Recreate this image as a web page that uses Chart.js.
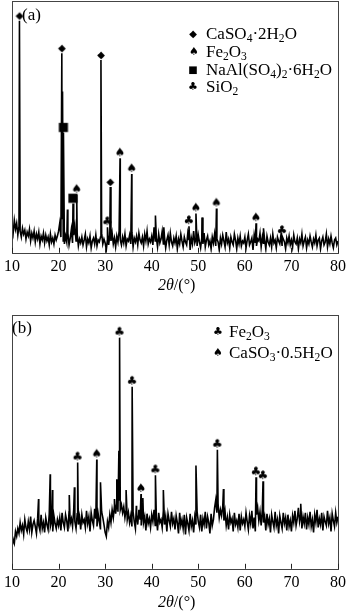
<!DOCTYPE html>
<html>
<head>
<meta charset="utf-8">
<script src="https://cdn.jsdelivr.net/npm/chart.js@4.4.1/dist/chart.umd.min.js"></script>
<style>
  body { margin: 0; background: #fff; }
  #page { position: relative; width: 350px; height: 612px; overflow: hidden; font-family: "Liberation Serif", "Times New Roman", serif; color: #000; }
  canvas { position: absolute; left: 0; }
  .txt { position: absolute; white-space: nowrap; line-height: 1; font-size: 17px; }
  .gl { position: absolute; font-family: "DejaVu Sans", sans-serif; line-height: 1; transform: translate(-50%, -50%); }
  sub { font-size: 0.68em; vertical-align: -0.28em; line-height: 0; }
  .xt { position: absolute; font-size: 16px; line-height: 1; }
</style>
</head>
<body>
<div id="page">
  <canvas id="chartA" width="350" height="280" style="top:0"></canvas>
  <canvas id="chartB" width="350" height="296" style="top:300px"></canvas>

  <div class="txt" style="left:22px;top:6px">(a)</div>
  <span class="gl" style="left:193px;top:34px;font-size:10px">◆</span>
  <div class="txt" style="left:206px;top:25px">CaSO<sub>4</sub>·2H<sub>2</sub>O</div>
  <span class="gl" style="left:194px;top:51px;font-size:11px">♠</span>
  <div class="txt" style="left:206px;top:43px">Fe<sub>2</sub>O<sub>3</sub></div>
  <span class="gl" style="left:193px;top:70px;font-size:10px">■</span>
  <div class="txt" style="left:206px;top:61px">NaAl(SO<sub>4</sub>)<sub>2</sub>·6H<sub>2</sub>O</div>
  <span class="gl" style="left:193px;top:86px;font-size:11px">♣</span>
  <div class="txt" style="left:206px;top:78px">SiO<sub>2</sub></div>
  <div class="xt" style="left:158px;top:277px"><i>2θ</i>/(°)</div>

  <div class="txt" style="left:12px;top:319px">(b)</div>
  <span class="gl" style="left:218px;top:331px;font-size:11px">♣</span>
  <div class="txt" style="left:229px;top:323px">Fe<sub>2</sub>O<sub>3</sub></div>
  <span class="gl" style="left:218px;top:352px;font-size:11px">♠</span>
  <div class="txt" style="left:229px;top:344px">CaSO<sub>3</sub>·0.5H<sub>2</sub>O</div>
  <div class="xt" style="left:158px;top:594px"><i>2θ</i>/(°)</div>
</div>

<script>
// XRD scans: counts recorded every 0.25° from 10° to 80°, sharp reflections listed separately
const scanStart = 10;
const scanStep = 0.25;
const xTicks = [10, 20, 30, 40, 50, 60, 70, 80];

// (a) raw residue
const countsA = [
  28, 20, 33, 24, 30, 18, 27, 22, 16, 25, 19, 23, 14, 21, 17, 24, 12, 20, 15, 22,
  11, 19, 14, 21, 9, 17, 13, 20, 10, 18, 12, 16, 8, 19, 11, 15, 9, 18, 13, 17,
  22, 30, 16, 35, 12, 9, 17, 11, 20, 8, 15, 24, 10, 18, 27, 12, 19, 7, 14, 10,
  16, 8, 13, 19, 6, 14, 10, 17, 5, 12, 15, 9, 18, 7, 13, 11, 16, 20, 9, 14,
  10, 3, 14, 8, 18, 12, 20, 9, 15, 6, 17, 11, 22, 13, 8, 16, 10, 19, 7, 14,
  12, 18, 9, 21, 6, 15, 11, 17, 8, 20, 13, 10, 16, 7, 19, 12, 22, 9, 14, 11,
  17, 8, 26, 12, 15, 6, 19, 10, 14, 22, 9, 16, 5, 13, 18, 8, 20, 11, 7, 15,
  10, 17, 4, 14, 9, 19, 12, 6, 16, 11, 8, 20, 13, 3, 15, 9, 22, 10, 14, 7,
  18, 11, 5, 15, 9, 20, 6, 13, 17, 8, 12, 4, 16, 10, 19, 7, 14, 11, 3, 15,
  9, 18, 12, 6, 21, 10, 14, 5, 16, 11, 8, 19, 13, 4, 15, 9, 17, 7, 12, 10,
  16, 5, 13, 19, 8, 11, 15, 3, 18, 10, 7, 14, 12, 20, 6, 16, 9, 13, 4, 17,
  11, 8, 15, 6, 19, 10, 13, 5, 16, 12, 9, 18, 7, 14, 11, 4, 15, 10, 17, 8,
  13, 6, 18, 11, 9, 15, 4, 14, 10, 19, 7, 12, 16, 5, 13, 9, 17, 11, 6, 14,
  10, 18, 7, 13, 15, 4, 12, 16, 8, 11, 19, 6, 14, 9, 17, 10, 5, 13, 15, 8, 12
];
const peaksA = [
  [11.6, 236], [20.7, 203], [20.85, 164], [21.05, 122], [21.9, 44], [23.1, 50],
  [23.9, 59], [29.1, 196], [30.5, 26], [31.1, 67], [33.2, 96], [35.7, 80],
  [40.8, 38], [42.6, 26], [48.0, 27], [49.5, 40], [50.8, 36], [53.9, 45],
  [62.4, 30], [64.0, 25], [68.0, 17]
];
const gypsumA = [11.6, 20.7, 29.1, 31.1];
const hematiteA = [23.9, 33.2, 35.7, 49.5, 53.9, 62.4];
const alumA = [21.05, 23.1];
const quartzA = [30.5, 48.0, 68.0];

// (b) treated product
const countsB = [
  22, 30, 26, 38, 33, 41, 36, 47, 39, 44, 35, 50, 42, 38, 48, 40, 53, 37, 45, 49,
  43, 36, 51, 44, 39, 55, 41, 47, 37, 52, 45, 40, 56, 43, 48, 38, 54, 46, 41, 50,
  44, 52, 39, 57, 47, 42, 55, 49, 38, 58, 46, 51, 43, 60, 48, 41, 56, 45, 53, 40,
  55, 47, 50, 42, 59, 46, 53, 38, 57, 49, 44, 61, 51, 43, 56, 48, 40, 58, 52, 45,
  37, 33, 48, 42, 55, 47, 60, 52, 64, 56, 66, 58, 70, 60, 65, 57, 63, 52, 60, 50,
  57, 47, 54, 43, 58, 48, 41, 55, 45, 60, 50, 44, 57, 47, 53, 39, 56, 46, 51, 42,
  55, 48, 60, 44, 52, 39, 57, 47, 50, 42, 59, 45, 53, 38, 56, 49, 43, 58, 46, 51,
  40, 54, 47, 36, 57, 44, 50, 41, 55, 35, 52, 46, 39, 56, 43, 49, 37, 53, 45, 58,
  48, 42, 55, 38, 51, 45, 58, 41, 53, 47, 36, 56, 44, 50, 62, 70, 57, 66, 52, 60,
  54, 63, 49, 58, 44, 52, 40, 55, 47, 51, 38, 57, 45, 49, 42, 56, 39, 53, 46, 50,
  43, 57, 48, 40, 54, 46, 59, 41, 52, 38, 55, 62, 49, 58, 44, 60, 47, 53, 39, 56,
  45, 51, 37, 55, 48, 42, 58, 44, 50, 36, 54, 47, 41, 57, 46, 52, 39, 55, 43, 49,
  38, 54, 47, 59, 44, 51, 62, 48, 55, 41, 53, 46, 57, 40, 52, 45, 58, 43, 50, 37,
  55, 47, 60, 42, 51, 45, 57, 39, 53, 48, 44, 59, 46, 52, 38, 56, 49, 43, 57, 47, 53
];
const peaksB = [
  [15.7, 71], [18.2, 96], [18.7, 80], [22.3, 75], [23.4, 83], [24.1, 108],
  [28.2, 111], [29.0, 88], [32.0, 71], [32.5, 91], [32.95, 120], [33.1, 235],
  [34.5, 80], [35.8, 185], [36.7, 64], [37.7, 76], [38.1, 72], [40.8, 95],
  [42.5, 80], [49.5, 105], [54.1, 121], [55.4, 81], [62.4, 93], [63.9, 89],
  [72.0, 66]
];
const hematiteB = [24.1, 33.1, 35.8, 40.8, 54.1, 62.4, 63.9];
const sulfiteB = [28.2, 37.7];

function buildScan(counts, peaks) {
  const pts = counts.map((c, i) => ({ x: scanStart + i * scanStep, y: c }));
  peaks.forEach(p => pts.push({ x: p[0], y: p[1] }));
  pts.sort((a, b) => a.x - b.x);
  return pts;
}

// marker sits just above the top of its reflection
function markersAt(angles, peaks) {
  return angles.map(a => {
    const p = peaks.find(q => q[0] === a);
    return { x: p[0], y: p[1] };
  });
}

function glyph(ch, size, lift) {
  const c = document.createElement('canvas');
  c.width = 24;
  c.height = 40;
  const g = c.getContext('2d');
  g.font = size + 'px "DejaVu Sans"';
  g.textAlign = 'center';
  g.textBaseline = 'middle';
  g.fillStyle = '#000';
  g.fillText(ch, 12, 20 - lift);
  return c;
}

const frame = {
  id: 'frame',
  afterDatasetsDraw(chart) {
    const { ctx, chartArea: a, scales } = chart;
    ctx.save();
    ctx.strokeStyle = '#444';
    ctx.lineWidth = 1;
    ctx.strokeRect(Math.round(a.left) + 0.5, Math.round(a.top) + 0.5,
      Math.round(a.right - a.left), Math.round(a.bottom - a.top));
    // inward ticks on the 2θ axis
    ctx.strokeStyle = '#222';
    ctx.beginPath();
    xTicks.forEach(t => {
      const px = Math.round(scales.x.getPixelForValue(t)) + 0.5;
      ctx.moveTo(px, a.bottom);
      ctx.lineTo(px, a.bottom - 5);
    });
    ctx.stroke();
    ctx.restore();
  }
};

function makeChart(id, counts, peaks, yMax, padTop, markerSets) {
  const datasets = [{
    type: 'line',
    data: buildScan(counts, peaks),
    borderColor: '#000',
    borderWidth: 1.6,
    pointRadius: 0,
    tension: 0,
    order: 2
  }];
  markerSets.forEach(m => datasets.push({
    type: 'scatter',
    data: markersAt(m.angles, peaks),
    pointStyle: m.style,
    pointRadius: 3,
    order: 1
  }));

  return new Chart(document.getElementById(id), {
    type: 'line',
    data: { datasets },
    options: {
      responsive: false,
      animation: false,
      layout: { autoPadding: false, padding: { left: 7, right: 6, top: padTop, bottom: 0 } },
      plugins: { legend: { display: false }, tooltip: { enabled: false } },
      scales: {
        x: {
          type: 'linear',
          min: 10,
          max: 80,
          afterBuildTicks: s => { s.ticks = xTicks.map(v => ({ value: v })); },
          grid: { display: false, drawTicks: false },
          border: { display: false },
          ticks: { color: '#000', padding: 4, maxRotation: 0, font: { family: 'Liberation Serif', size: 16 } }
        },
        y: { display: false, min: 0, max: yMax }
      }
    },
    plugins: [frame]
  });
}

const diamond = glyph('◆', 10, 5);
const spade = glyph('♠', 12, 5);
const square = glyph('■', 12, 5);
const club = glyph('♣', 12, 5);

makeChart('chartA', countsA, peaksA, 256, 1, [
  { angles: gypsumA, style: diamond },
  { angles: hematiteA, style: spade },
  { angles: alumA, style: square },
  { angles: quartzA, style: club }
]);

makeChart('chartB', countsB, peaksB, 258, 15, [
  { angles: hematiteB, style: club },
  { angles: sulfiteB, style: spade }
]);
</script>
</body>
</html>
